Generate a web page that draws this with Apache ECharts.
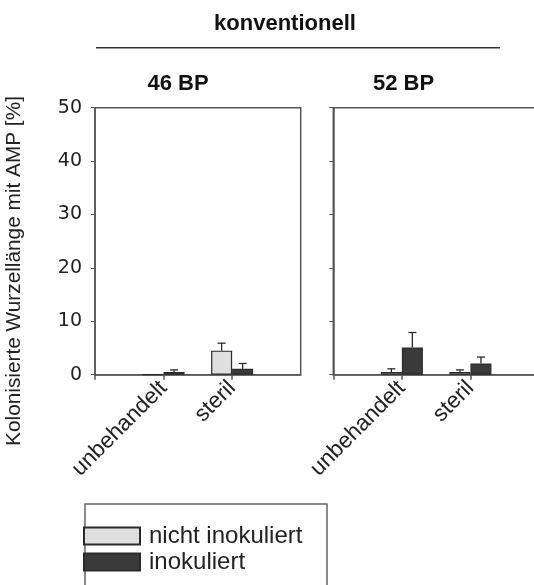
<!DOCTYPE html>
<html>
<head>
<meta charset="utf-8">
<script src="https://cdn.jsdelivr.net/npm/echarts@6/dist/echarts.min.js"></script>
<style>
html,body{margin:0;padding:0;background:#fff;}
#main{width:534px;height:585px;}
</style>
</head>
<body>
<div id="main"></div>
<script>
// ---- data ----
const categories = ['unbehandelt', 'steril'];   // placed at x = 1, 2 on an axis running 0..3
const yTicks = [0, 10, 20, 30, 40, 50];
const panelTitles = ['46 BP', '52 BP'];
const groupTitle = 'konventionell';
const seriesNames = ['nicht inokuliert', 'inokuliert'];
// 46 BP
const nichtInok46 = [0, 4.5];
const nichtInok46Err = [0, 1.4];
const inok46 = [0.5, 1.1];
const inok46Err = [0.4, 1.0];
// 52 BP
const nichtInok52 = [0.5, 0.5];
const nichtInok52Err = [0.6, 0.4];
const inok52 = [5.1, 2.1];
const inok52Err = [2.8, 1.2];
const yName = 'Kolonisierte Wurzellänge mit AMP [%]';

// ---- styles ----
const FONT = 'Liberation Sans, Arial, sans-serif';
const WIDE = 'DejaVu Sans, sans-serif';
const LIGHT = '#dfdfdf';
const DARK = '#3a3a3a';
const EDGE = '#2a2a2a';
const AXIS = '#555';
const BAR_W = 21;
const X_STEP_PX = 68.57;          // pixel width of one x unit (both panels)
const W = 534;

const chart = echarts.init(document.getElementById('main'), null, {renderer: 'canvas'});

function xAxis(gi, xmax) {
  return {
    type: 'value', gridIndex: gi, min: 0, max: xmax, interval: 1,
    axisLine: {onZero: false, lineStyle: {color: AXIS, width: 1.5}},
    axisTick: {show: true, length: 5, inside: false, lineStyle: {color: AXIS, width: 1.5}},
    axisLabel: {rotate: 45, fontSize: 22.5, fontFamily: FONT, color: '#222', margin: 10,
      showMinLabel: true, showMaxLabel: false,
      formatter: function (v) { return categories[v - 1] || ''; }},
    splitLine: {show: false}
  };
}
function yAxis(gi, showLabels) {
  return {
    type: 'value', gridIndex: gi, min: yTicks[0], max: yTicks[yTicks.length - 1], interval: yTicks[1] - yTicks[0],
    axisLine: {show: true, onZero: false, lineStyle: {color: AXIS, width: 1.5}},
    axisTick: {show: true, length: 4, lineStyle: {color: AXIS, width: 1}},
    axisLabel: {show: showLabels, fontSize: 19, fontFamily: WIDE, color: '#222', margin: 13},
    splitLine: {show: false}
  };
}
function pairs(vals) { return vals.map(function (v, i) { return [i + 1, v]; }); }
function bar(name, gi, data, color) {
  return {
    name: name, type: 'bar', xAxisIndex: gi, yAxisIndex: gi, data: pairs(data),
    barWidth: BAR_W, barGap: '0%',
    itemStyle: {color: color, borderColor: EDGE, borderWidth: 1.2},
    emphasis: {disabled: true}, z: 2
  };
}
function err(gi, vals, errs, side) {
  const pts = [];
  vals.forEach(function (v, i) {
    if (errs[i]) pts.push([i + 1, v, v + errs[i]]);
  });
  return {
    type: 'custom', xAxisIndex: gi, yAxisIndex: gi, data: pts, z: 3, silent: true,
    renderItem: function (params, api) {
      const lo = api.coord([api.value(0), api.value(1)]);
      const hi = api.coord([api.value(0), api.value(2)]);
      const x = lo[0] + side * BAR_W / 2;
      const st = {stroke: EDGE, lineWidth: 1.3};
      return {type: 'group', children: [
        {type: 'line', shape: {x1: x, y1: lo[1], x2: x, y2: hi[1]}, style: st},
        {type: 'line', shape: {x1: x - 4, y1: hi[1], x2: x + 4, y2: hi[1]}, style: st}
      ]};
    }
  };
}

const left0 = 95, left1 = 333.3;
const width0 = 3 * X_STEP_PX;
const width1 = W - left1 - 0.5;              // right panel runs off the page
const xmax1 = width1 / X_STEP_PX;

const option = {
  animation: false,
  backgroundColor: '#fff',
  grid: [
    {left: left0, top: 107.7, width: width0, height: 267, outerBoundsMode: 'none', containLabel: false,
      show: true, borderColor: AXIS, borderWidth: 1.5, backgroundColor: 'transparent'},
    {left: left1, top: 107.7, width: width1 + 6, height: 267, outerBoundsMode: 'none', containLabel: false,
      show: true, borderColor: AXIS, borderWidth: 1.5, backgroundColor: 'transparent'}
  ],
  xAxis: [xAxis(0, 3), xAxis(1, (width1 + 6) / X_STEP_PX)],
  yAxis: [yAxis(0, true), yAxis(1, false)],
  legend: {
    data: seriesNames, orient: 'vertical', left: 83, top: 524,
    itemWidth: 56, itemHeight: 17, itemGap: 2, icon: 'rect',
    textStyle: {fontSize: 24, fontFamily: FONT, color: '#222', padding: [0, 0, 0, 4]},
    padding: 0, selectedMode: false
  },
  series: [
    bar(seriesNames[0], 0, nichtInok46, LIGHT),
    bar(seriesNames[1], 0, inok46, DARK),
    bar(seriesNames[0], 1, nichtInok52, LIGHT),
    bar(seriesNames[1], 1, inok52, DARK),
    err(0, nichtInok46, nichtInok46Err, -1),
    err(0, inok46, inok46Err, 1),
    err(1, nichtInok52, nichtInok52Err, -1),
    err(1, inok52, inok52Err, 1)
  ],
  graphic: [
    {type: 'text', x: 285, y: 24, style: {text: groupTitle, font: 'bold 22px ' + FONT, fill: '#111', textAlign: 'center', textVerticalAlign: 'middle'}},
    {type: 'line', shape: {x1: 96, y1: 47.7, x2: 500, y2: 47.7}, style: {stroke: '#333', lineWidth: 1.5}},
    {type: 'text', x: 178, y: 84, style: {text: panelTitles[0], font: 'bold 22px ' + FONT, fill: '#111', textAlign: 'center', textVerticalAlign: 'middle'}},
    {type: 'text', x: 403.5, y: 84, style: {text: panelTitles[1], font: 'bold 22px ' + FONT, fill: '#111', textAlign: 'center', textVerticalAlign: 'middle'}},
    {type: 'text', x: 14, y: 271, rotation: Math.PI / 2, style: {text: yName, font: '20.8px ' + FONT, fill: '#222', textAlign: 'center', textVerticalAlign: 'middle'}},
    {type: 'rect', shape: {x: 85, y: 504, width: 242, height: 120}, style: {fill: 'none', stroke: '#666', lineWidth: 1.5}, z: -1}
  ]
};
chart.setOption(option);
</script>
</body>
</html>
